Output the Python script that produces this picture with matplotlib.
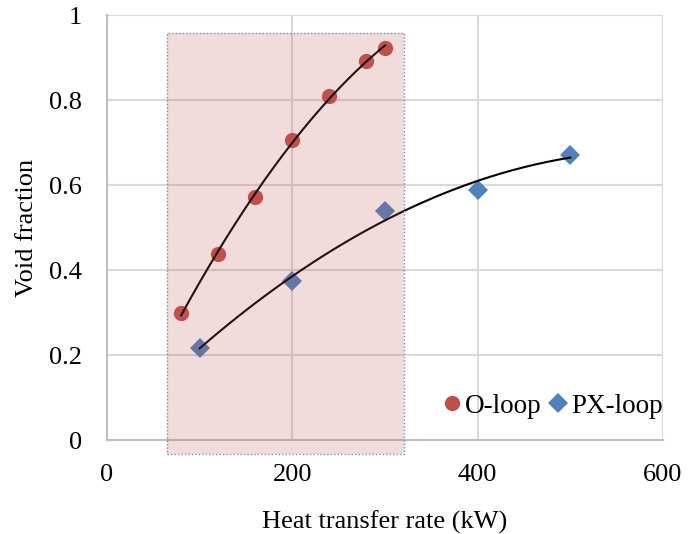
import matplotlib
matplotlib.use("Agg")
import matplotlib.pyplot as plt
from matplotlib.patches import Rectangle
import numpy as np

# data
o_x = [80, 120, 160, 200, 240, 280, 300]
o_y = [0.300, 0.437, 0.572, 0.706, 0.810, 0.892, 0.923]
px_x = [100, 200, 300, 400, 500]
px_y = [0.217, 0.375, 0.540, 0.589, 0.671]

x_ticks = [0, 200, 400, 600]
y_ticks = [0, 0.2, 0.4, 0.6, 0.8, 1]
y_tick_labels = ["0", "0.2", "0.4", "0.6", "0.8", "1"]

plt.rcParams['font.family'] = ['Liberation Serif', 'DejaVu Serif']

fig = plt.figure(figsize=(6.93, 5.34), dpi=100)
ax = fig.add_axes([0.1544, 0.176, 0.8023, 0.7959])

# markers
ax.plot(o_x, o_y, 'o', color='#C0504D', markersize=11, markeredgewidth=0,
        label='O-loop', zorder=3)
ax.plot(px_x, px_y, 'D', color='#4F81BD', markersize=10, markeredgewidth=0,
        label='PX-loop', zorder=3)

# 2nd order trend lines (like Excel)
for xs, ys in [(o_x, o_y), (px_x, px_y)]:
    c = np.polyfit(xs, ys, 2)
    xx = np.linspace(min(xs), max(xs), 200)
    ax.plot(xx, np.polyval(c, xx), color='black', lw=1.5, zorder=4)

# shaded region, drawn over the data
ax.add_patch(Rectangle((65, -0.033), 255, 0.991, facecolor='#C0504D',
                       alpha=0.2, edgecolor='none', clip_on=False, zorder=5))
ax.add_patch(Rectangle((65, -0.033), 255, 0.991, facecolor='none',
                       edgecolor='#6F8FB8', lw=1.0, linestyle=(0, (1, 1.5)),
                       clip_on=False, zorder=6))

ax.set_xlim(0, 600)
ax.set_ylim(0, 1)
ax.set_xticks(x_ticks)
ax.set_yticks(y_ticks)
ax.set_yticklabels(y_tick_labels)
ax.tick_params(length=0, labelsize=19)
ax.tick_params(axis='x', pad=17)
ax.tick_params(axis='y', pad=18)
ax.grid(True, color='#D9D9D9', lw=1.5, zorder=0)
ax.set_axisbelow(True)
for s in ['top', 'right']:
    ax.spines[s].set_visible(False)
for s in ['left', 'bottom']:
    ax.spines[s].set_color('#BFBFBF')
    ax.spines[s].set_linewidth(1.5)

ax.set_xlabel('Heat transfer rate (kW)', fontsize=19, labelpad=18)
ax.set_ylabel('Void fraction', fontsize=19, labelpad=8)

ax.legend(loc='lower right', bbox_to_anchor=(1.02, 0.025), ncol=2, frameon=False,
          fontsize=19.5, handletextpad=0.05, columnspacing=0.15, handlelength=0.9,
          borderaxespad=0.0)

fig.savefig('out.png', dpi=100)
